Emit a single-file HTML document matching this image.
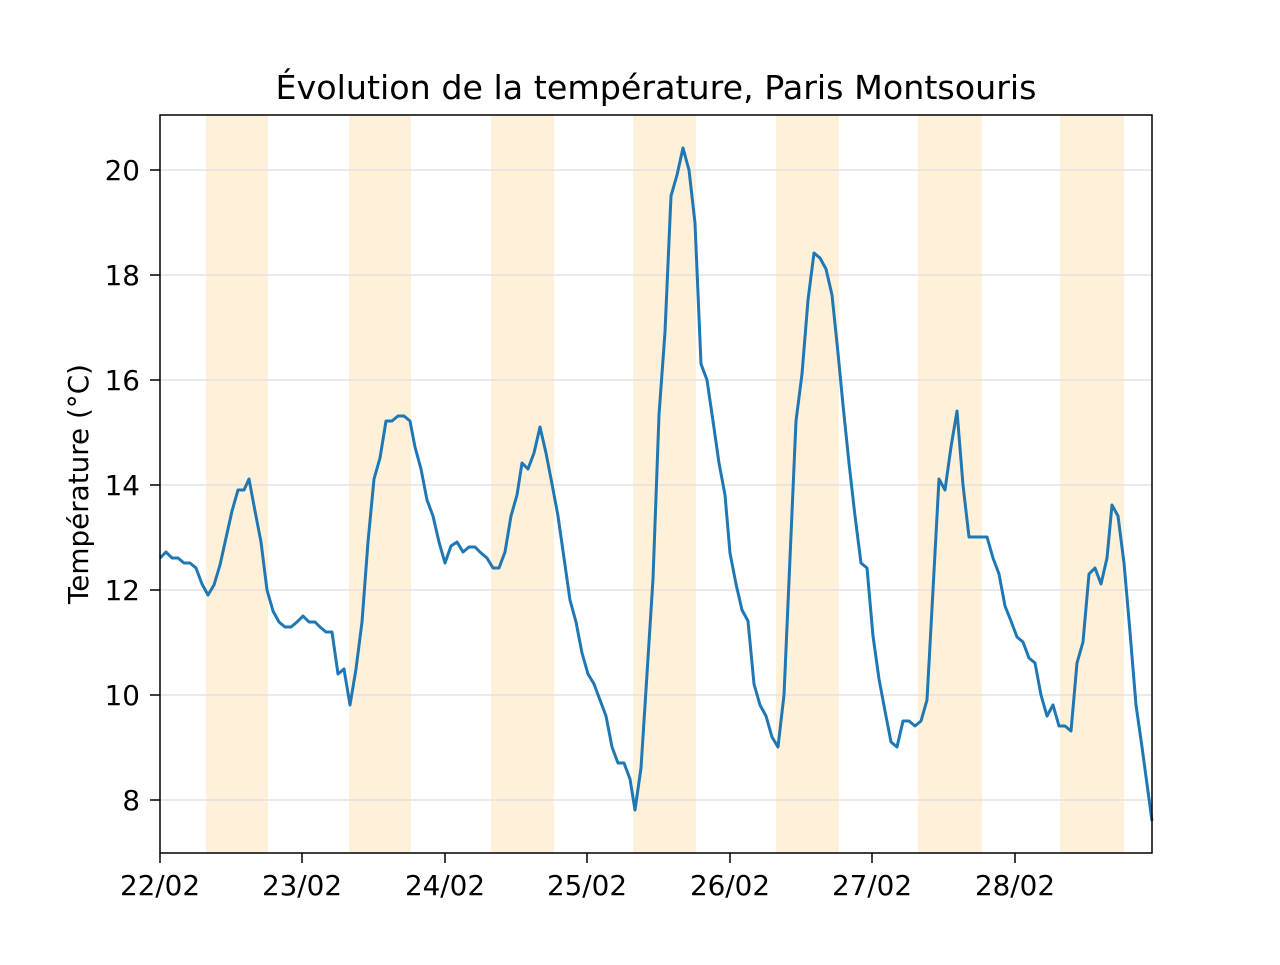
<!DOCTYPE html>
<html><head><meta charset="utf-8"><style>
body{margin:0;background:#fff}
svg text{font-family:"DejaVu Sans","Liberation Sans",sans-serif;fill:#000}
</style></head><body>
<svg width="1280" height="960" viewBox="0 0 1280 960" xmlns="http://www.w3.org/2000/svg">
<rect width="1280" height="960" fill="#fff"/>
<g fill="#fff0d9">
<rect x="206" y="115" width="62" height="738"/>
<rect x="349" y="115" width="62" height="738"/>
<rect x="491" y="115" width="63" height="738"/>
<rect x="633" y="115" width="63" height="738"/>
<rect x="776" y="115" width="63" height="738"/>
<rect x="918" y="115" width="64" height="738"/>
<rect x="1060" y="115" width="64" height="738"/>
</g>
<g stroke="#dddddd" stroke-width="1.2">
<line x1="160" x2="1152" y1="170" y2="170"/>
<line x1="160" x2="1152" y1="275" y2="275"/>
<line x1="160" x2="1152" y1="380" y2="380"/>
<line x1="160" x2="1152" y1="485" y2="485"/>
<line x1="160" x2="1152" y1="590" y2="590"/>
<line x1="160" x2="1152" y1="695" y2="695"/>
<line x1="160" x2="1152" y1="800" y2="800"/>
</g>
<polyline fill="none" stroke="#1f77b4" stroke-width="3" stroke-linejoin="round" points="160,558 166,552 172,558 178,558 184,563 190,563 196,568 202,584 208,595 214,585 220,565 226,538 232,511 238,490 244,490 249,479 255,511 261,542 267,590 273,611 279,622 285,627 291,627 297,622 303,616 309,622 315,622 320,627 326,632 332,632 338,674 344,669 350,705 356,669 362,622 368,542 374,479 380,458 386,421 392,421 398,416 404,416 410,421 415,447 421,469 427,500 433,516 439,542 445,563 451,546 457,542 463,552 469,547 475,547 481,553 487,558 493,568 499,568 505,552 511,516 517,495 522,463 528,469 534,453 540,427 546,453 552,484 558,516 564,558 570,600 576,622 582,653 588,674 594,684 600,700 606,716 612,747 618,763 624,763 630,779 635,810 641,768 647,674 653,579 659,415 665,332 671,196 677,175 683,148 689,170 695,223 701,364 707,380 713,421 719,463 725,495 730,553 736,584 742,610 748,621 754,684 760,705 766,716 772,737 778,747 784,695 790,558 796,421 802,374 808,300 814,253 820,258 826,269 832,295 838,353 843,405 849,463 855,516 861,563 867,568 873,636 879,679 885,711 891,742 897,747 903,721 909,721 915,726 921,721 927,700 933,590 939,479 945,490 951,447 957,411 963,485 969,537 975,537 981,537 987,537 993,558 999,574 1005,606 1011,621 1017,637 1023,642 1029,658 1035,663 1041,695 1047,716 1053,705 1059,726 1065,726 1071,731 1077,663 1083,642 1089,574 1095,568 1101,584 1107,558 1112,505 1118,516 1124,563 1130,632 1136,705 1142,747 1152,821"/>
<rect x="160" y="115" width="992" height="738" fill="none" stroke="#000" stroke-width="1.5"/>
<g stroke="#000" stroke-width="1.5">
<line x1="160" x2="160" y1="853" y2="863"/>
<line x1="302" x2="302" y1="853" y2="863"/>
<line x1="445" x2="445" y1="853" y2="863"/>
<line x1="587" x2="587" y1="853" y2="863"/>
<line x1="730" x2="730" y1="853" y2="863"/>
<line x1="872" x2="872" y1="853" y2="863"/>
<line x1="1015" x2="1015" y1="853" y2="863"/>
<line x1="150" x2="160" y1="170" y2="170"/>
<line x1="150" x2="160" y1="275" y2="275"/>
<line x1="150" x2="160" y1="380" y2="380"/>
<line x1="150" x2="160" y1="485" y2="485"/>
<line x1="150" x2="160" y1="590" y2="590"/>
<line x1="150" x2="160" y1="695" y2="695"/>
<line x1="150" x2="160" y1="800" y2="800"/>
</g>
<g font-size="27.8" text-anchor="middle">
<text x="160" y="895">22/02</text>
<text x="302" y="895">23/02</text>
<text x="445" y="895">24/02</text>
<text x="587" y="895">25/02</text>
<text x="730" y="895">26/02</text>
<text x="872" y="895">27/02</text>
<text x="1015" y="895">28/02</text>
</g>
<g font-size="27.8" text-anchor="end">
<text x="140" y="180">20</text>
<text x="140" y="285">18</text>
<text x="140" y="390">16</text>
<text x="140" y="495">14</text>
<text x="140" y="600">12</text>
<text x="140" y="705">10</text>
<text x="140" y="810">8</text>
</g>
<text x="88" y="484" font-size="27.8" text-anchor="middle" transform="rotate(-90 88 484)">Température (°C)</text>
<text x="656" y="99" font-size="33.3" text-anchor="middle">Évolution de la température, Paris Montsouris</text>
</svg>
</body></html>
